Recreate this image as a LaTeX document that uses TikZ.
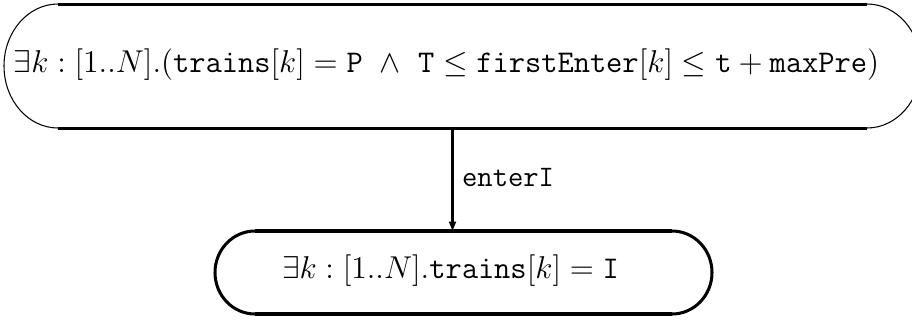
\documentclass[tikz,border=0pt]{standalone}
\usetikzlibrary{arrows.meta,fit}
\begin{document}
\begin{tikzpicture}[x=0.38pt,y=-0.38pt,
  frame/.style={inner sep=0pt, outer sep=0pt},
  edgeline/.style={line width=1.14pt},
  thinarc/.style={line width=0.4pt},
  boldline/.style={line width=1.35pt},
  boldarc/.style={line width=1.15pt},
  flow/.style={line width=0.95pt, -{Triangle[length=3.6pt,width=2.6pt]}},
  formula/.style={inner sep=0pt, font=\fontsize{11.75}{14}\selectfont}]
\useasboundingbox (0,0) rectangle (912,320);
\clip (0,0) rectangle (912,320);

% upper location
\node[frame, fit={(58,4) (867,128)}] (A) {};
\node[formula] (Atext) at (446.5,65)
  {$\exists k:[1..N].(\mathtt{trains}[k]=\mathtt{P}\ \wedge\ \mathtt{T}\le\mathtt{firstEnter}[k]\le\mathtt{t}+\mathtt{maxPre})$};
\draw[edgeline] (A.north west) -- (A.north east);
\draw[edgeline] (A.south west) -- (A.south east);
\draw[thinarc] (A.north west) arc[start angle=90, end angle=270, x radius=20.52pt, y radius=23.56pt];
\draw[thinarc] (A.north east) arc[start angle=90, end angle=-90, x radius=20.52pt, y radius=23.56pt];

% lower location
\node[frame, fit={(255,231) (672,314)}] (B) {};
\node[formula] (Btext) at (450.5,271)
  {$\exists k:[1..N].\mathtt{trains}[k]=\mathtt{I}$};
\draw[boldline] (B.north west) -- (B.north east);
\draw[boldline] (B.south west) -- (B.south east);
\draw[boldarc] (B.north west) arc[start angle=90, end angle=270, x radius=15.2pt, y radius=15.77pt];
\draw[boldarc] (B.north east) arc[start angle=90, end angle=-90, x radius=15.2pt, y radius=15.77pt];

% transition
\coordinate (col) at (452.5,0);
\draw[flow] (A.south -| col) -- node[right, inner sep=3.2pt, yshift=0.6pt, font=\fontsize{11.3}{13}\selectfont] (lbl) {\texttt{enterI}} (B.north -| col);
\end{tikzpicture}
\end{document}
